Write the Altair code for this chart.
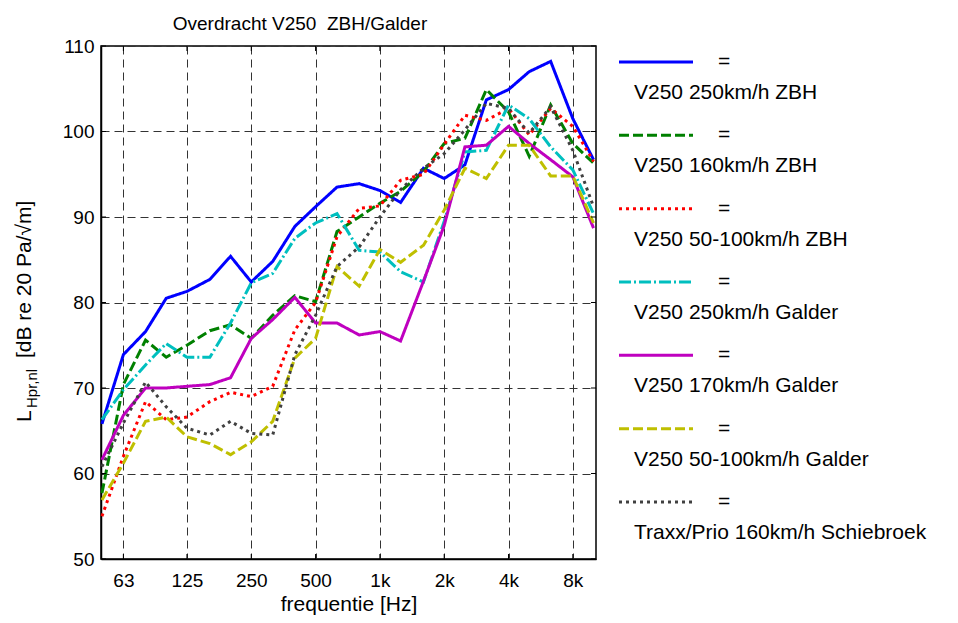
import altair as alt
import pandas as pd

FONT = "Liberation Sans, Arial, Helvetica, sans-serif"

# third-octave band centre frequencies [Hz]
freqs = [50, 63, 80, 100, 125, 160, 200, 250, 315, 400, 500, 630, 800,
         1000, 1250, 1600, 2000, 2500, 3150, 4000, 5000, 6300, 8000, 10000]

series_names = [
    "V250 250km/h ZBH",
    "V250 160km/h ZBH",
    "V250 50-100km/h ZBH",
    "V250 250km/h Galder",
    "V250 170km/h Galder",
    "V250 50-100km/h Galder",
    "Traxx/Prio 160km/h Schiebroek",
]

v250_250_zbh = [65.8, 73.9, 76.6, 80.5, 81.3, 82.7, 85.4, 82.4, 84.8, 88.9, 91.2, 93.5,
                93.9, 93.1, 91.7, 95.7, 94.5, 96.1, 103.7, 104.9, 107.0, 108.2, 101.5, 96.7]
v250_160_zbh = [57.7, 70.4, 75.6, 73.6, 75.0, 76.7, 77.4, 75.8, 78.5, 80.8, 80.1, 88.3,
                90.0, 91.6, 93.0, 95.3, 98.6, 99.2, 104.9, 102.3, 97.1, 103.1, 98.6, 96.3]
v250_50_100_zbh = [55.0, 62.0, 68.4, 66.3, 66.6, 68.4, 69.5, 69.0, 70.2, 76.8, 80.0, 87.7,
                   91.0, 91.3, 94.3, 95.0, 98.5, 101.9, 101.3, 102.7, 99.6, 102.7, 100.6, 96.5]
v250_250_galder = [66.3, 69.8, 72.7, 75.2, 73.6, 73.6, 77.6, 82.3, 83.4, 87.5, 89.3, 90.4,
                   86.1, 85.9, 83.6, 82.4, 89.5, 97.6, 97.8, 103.1, 101.5, 98.2, 95.5, 90.4]
v250_170_galder = [61.6, 66.8, 70.0, 70.0, 70.2, 70.4, 71.2, 75.8, 78.0, 80.6, 77.6, 77.6,
                   76.2, 76.6, 75.5, 82.5, 89.0, 98.2, 98.4, 100.6, 98.6, 96.7, 94.7, 88.7]
v250_50_100_galder = [56.9, 61.2, 66.1, 66.6, 64.3, 63.5, 62.2, 63.7, 66.1, 73.5, 75.8, 84.2,
                      81.9, 86.2, 84.7, 86.7, 90.8, 95.7, 94.5, 98.4, 98.4, 94.8, 94.8, 89.3]
traxx_160_schiebroek = [60.8, 65.9, 70.7, 67.8, 65.3, 64.5, 66.1, 64.7, 64.5, 73.9, 78.5, 84.2,
                        86.5, 90.0, 93.2, 95.7, 97.4, 100.2, 103.3, 102.7, 99.8, 102.9, 97.8, 91.2]

all_series = [v250_250_zbh, v250_160_zbh, v250_50_100_zbh, v250_250_galder,
              v250_170_galder, v250_50_100_galder, traxx_160_schiebroek]

colors = ["#0000FF", "#008000", "#FF0000", "#00BFBF", "#BF00BF", "#BFBF00", "#404040"]
dashes = [[1, 0], [10, 4], [3, 4], [12, 3, 2, 3], [1, 0], [10, 4], [3, 4]]

x_tick_values = [63, 125, 250, 500, 1000, 2000, 4000, 8000]
y_tick_values = [50, 60, 70, 80, 90, 100, 110]

title_text = "Overdracht V250\u00a0 ZBH/Galder"
x_title = "frequentie [Hz]"
y_title_main = "L"
y_title_sub = "Hpr,nl"
y_title_rest = "[dB re 20 Pa/\u221am]"

W, H = 495, 513

rows = []
for name, vals in zip(series_names, all_series):
    for f, v in zip(freqs, vals):
        rows.append({"freq": f, "level": v, "series": name})
df = pd.DataFrame(rows)

x_scale = alt.Scale(type="log", domain=[49.5, 10270], nice=False)
y_scale = alt.Scale(domain=[50, 110], nice=False, zero=False)
color_scale = alt.Scale(domain=series_names, range=colors)
dash_scale = alt.Scale(domain=series_names, range=dashes)

x_axis = alt.Axis(
    values=x_tick_values,
    labelExpr="datum.value >= 1000 ? (datum.value / 1000) + 'k' : datum.value",
    title=x_title, titleY=51, titleBaseline="alphabetic",
    grid=True, ticks=False, tickSize=0, labelPadding=27, labelBaseline="alphabetic",
    labelFlush=False, labelOverlap=False,
)
y_axis = alt.Axis(
    values=y_tick_values, title=None, grid=True, ticks=False, tickSize=0,
    labelPadding=7, labelFlush=False, labelOverlap=False,
)

x_enc = alt.X("freq:Q", scale=x_scale, axis=x_axis)
y_enc = alt.Y("level:Q", scale=y_scale, axis=y_axis)

lines = alt.Chart(df).mark_line(strokeWidth=3).encode(
    x=x_enc,
    y=y_enc,
    color=alt.Color("series:N", scale=color_scale, legend=None),
    strokeDash=alt.StrokeDash("series:N", scale=dash_scale, legend=None),
    detail="series:N",
)

xt_df = pd.DataFrame({"freq": x_tick_values})
yt_df = pd.DataFrame({"level": y_tick_values})

tick_bottom = alt.Chart(xt_df).mark_rule(color="black", strokeWidth=1).encode(
    x=x_enc, y=alt.value(H), y2=alt.value(H - 5))
tick_top = alt.Chart(xt_df).mark_rule(color="black", strokeWidth=1).encode(
    x=x_enc, y=alt.value(0), y2=alt.value(5))
tick_left = alt.Chart(yt_df).mark_rule(color="black", strokeWidth=1).encode(
    y=y_enc, x=alt.value(0), x2=alt.value(5))
tick_right = alt.Chart(yt_df).mark_rule(color="black", strokeWidth=1).encode(
    y=y_enc, x=alt.value(W), x2=alt.value(W - 5))

title_mark = alt.Chart(pd.DataFrame({"t": [title_text]})).mark_text(
    font=FONT, fontSize=19, align="center", baseline="alphabetic", color="black"
).encode(x=alt.value(199), y=alt.value(-16), text="t:N")

yt_main = alt.Chart(pd.DataFrame({"t": [y_title_main]})).mark_text(
    font=FONT, fontSize=21, align="left", baseline="alphabetic", angle=270, color="black"
).encode(x=alt.value(-70), y=alt.value(376), text="t:N")
yt_sub = alt.Chart(pd.DataFrame({"t": [y_title_sub]})).mark_text(
    font=FONT, fontSize=15, align="left", baseline="alphabetic", angle=270, color="black"
).encode(x=alt.value(-64), y=alt.value(362), text="t:N")
yt_rest = alt.Chart(pd.DataFrame({"t": [y_title_rest]})).mark_text(
    font=FONT, fontSize=21, align="left", baseline="alphabetic", angle=270, color="black"
).encode(x=alt.value(-70), y=alt.value(312), text="t:N")

main = alt.layer(lines, tick_bottom, tick_top, tick_left, tick_right,
                 title_mark, yt_main, yt_sub, yt_rest)

leg_df = pd.DataFrame({"series": series_names, "eq": ["="] * len(series_names)})
leg_y = alt.Y("series:N", sort=series_names, axis=None,
              scale=alt.Scale(type="point", domain=series_names, range=[16, 456], padding=0))

leg_rules = alt.Chart(leg_df).mark_rule(strokeWidth=3).encode(
    x=alt.value(518), x2=alt.value(592), y=leg_y,
    color=alt.Color("series:N", scale=color_scale, legend=None),
    strokeDash=alt.StrokeDash("series:N", scale=dash_scale, legend=None),
)
leg_eq = alt.Chart(leg_df).mark_text(
    font=FONT, fontSize=21, align="center", baseline="middle", color="black"
).encode(x=alt.value(623), y=leg_y, text="eq:N")
leg_txt = alt.Chart(leg_df).mark_text(
    font=FONT, fontSize=21, align="left", baseline="middle", dy=31, color="black"
).encode(x=alt.value(533), y=leg_y, text="series:N")

legend = alt.layer(leg_rules, leg_eq, leg_txt)

chart = alt.layer(main, legend).resolve_scale(y="independent").properties(
    width=W, height=H,
    autosize=alt.AutoSizeParams(type="none"),
    padding={"left": 93, "top": 38, "right": 354, "bottom": 56},
).configure_view(
    stroke="black", strokeWidth=1.5
).configure_axis(
    labelFont=FONT, labelFontSize=19, labelColor="black",
    titleFont=FONT, titleFontSize=21, titleFontWeight="normal", titleColor="black",
    domainColor="black", domainWidth=1.5,
    gridColor="#333333", gridDash=[8, 5], gridWidth=1, gridOpacity=1,
)

chart.save("out.html", embed_options={"renderer": "svg", "actions": False})
